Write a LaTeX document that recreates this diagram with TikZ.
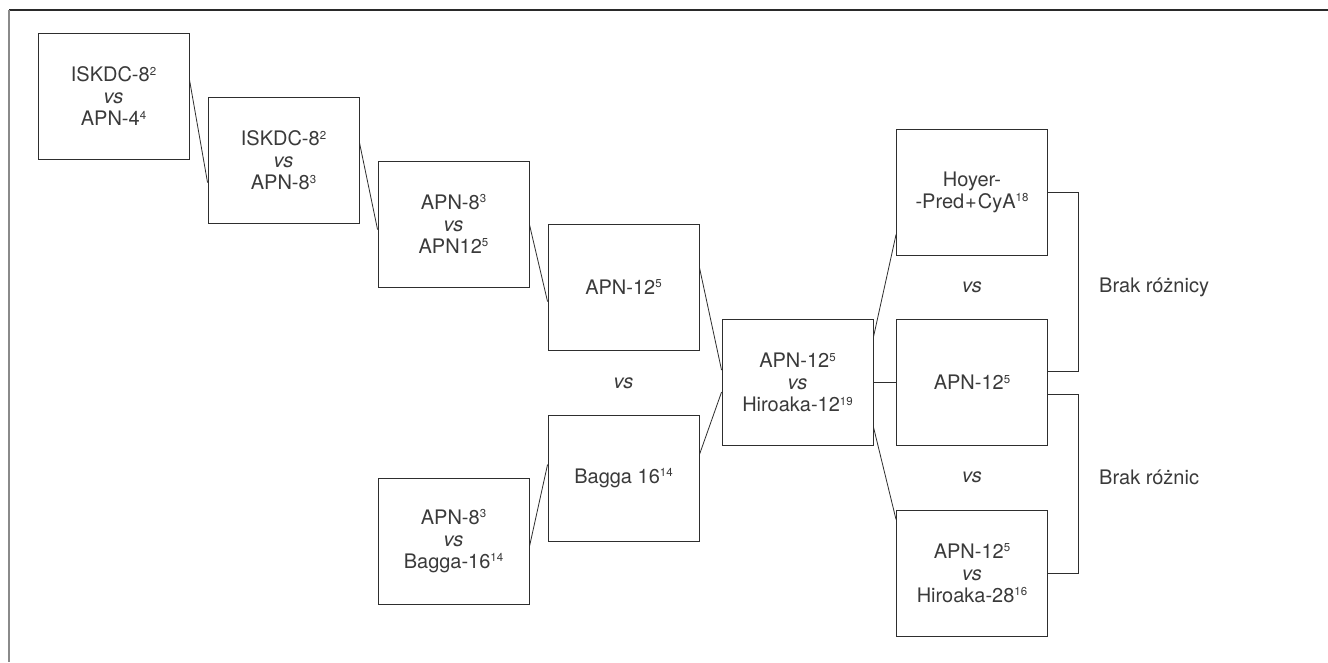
\documentclass[tikz,border=0pt]{standalone}
\usepackage{fontspec}
\setmainfont{TeX Gyre Heros}
\definecolor{ink}{HTML}{2E2E2E}
\definecolor{txt}{HTML}{3A3A3A}
\definecolor{frameL}{HTML}{8A8A8A}
\definecolor{frameT}{HTML}{2A2A2A}
\newcommand{\sps}[1]{\raisebox{6.3pt}{\fontsize{11.5}{11.5}\selectfont #1}}
\begin{document}
\begin{tikzpicture}[x=1pt,y=-1pt,
  box/.style={draw=ink,line width=0.9pt,minimum width=151pt,minimum height=126pt,inner sep=0pt,align=center,text=txt,
    font=\fontsize{20}{22}\selectfont},
  lbl/.style={text=txt,inner sep=0pt,font=\fontsize{20}{22}\selectfont},
  conn/.style={draw=ink,line width=0.8pt}]
\useasboundingbox (0,0) rectangle (1328,662);
\fill[white] (0,0) rectangle (1328,662);
% frame
\draw[frameT,line width=1.2pt] (9,10) -- (1328,10);
\draw[frameL,line width=1.6pt] (9,10) -- (9,662);
% boxes
\node[box] (b1) at (113.5,96) {ISKDC-8\sps{2}\\\textit{vs}\\APN-4\sps{4}};
\node[box] (b2) at (283.5,160) {ISKDC-8\sps{2}\\\textit{vs}\\APN-8\sps{3}};
\node[box] (b3) at (453.5,224) {APN-8\sps{3}\\\textit{vs}\\APN12\sps{5}};
\node[box] (b4) at (623.5,287) {APN-12\sps{5}};
\node[box] (b5) at (623.5,478) {Bagga 16\sps{14}};
\node[box] (b6) at (453.5,541) {APN-8\sps{3}\\\textit{vs}\\Bagga-16\sps{14}};
\node[box] (b7) at (797.5,382.5) {APN-12\sps{5}\\\textit{vs}\\Hiroaka-12\sps{19}};
\node[box] (b8) at (972,192) {Hoyer-\\-Pred\kern1pt+\kern1ptCyA\sps{18}};
\node[box] (b9) at (972,382.5) {APN-12\sps{5}};
\node[box] (b10) at (972,573) {APN-12\sps{5}\\\textit{vs}\\Hiroaka-28\sps{16}};
% labels
\node[lbl] (v1) at (623.5,383) {\textit{vs}};
\node[lbl] (v2) at (972,287) {\textit{vs}};
\node[lbl] (v3) at (972,477) {\textit{vs}};
\node[lbl,anchor=west] (r1) at (1099,287) {Brak różnicy};
\node[lbl,anchor=west] (r2) at (1099,477) {Brak różnic};
% connectors
\draw[conn] ([yshift=-47pt]b1.north east) -- ([yshift=-86pt]b2.north west);
\draw[conn] ([yshift=-46pt]b2.north east) -- ([yshift=-69pt]b3.north west);
\draw[conn] ([yshift=-64pt]b3.north east) -- ([yshift=-78pt]b4.north west);
\draw[conn] ([yshift=-44pt]b4.north east) -- ([yshift=-51pt]b7.north west);
\draw[conn] ([yshift=-40pt]b5.north east) -- ([yshift=-73pt]b7.north west);
\draw[conn] ([yshift=-69pt]b6.north east) -- ([yshift=-50pt]b5.north west);
\draw[conn] ([yshift=-18pt]b7.north east) -- ([yshift=-106pt]b8.north west);
\draw[conn] (b7.east) -- (b9.west);
\draw[conn] ([yshift=-108pt]b7.north east) -- ([yshift=-10pt]b10.north west);
% brackets
\draw[conn] (b8.east) -- ++(30,0) |- ([yshift=-52pt]b9.north east);
\draw[conn] ([yshift=-75pt]b9.north east) -- ++(30,0) |- (b10.east);
\end{tikzpicture}
\end{document}
